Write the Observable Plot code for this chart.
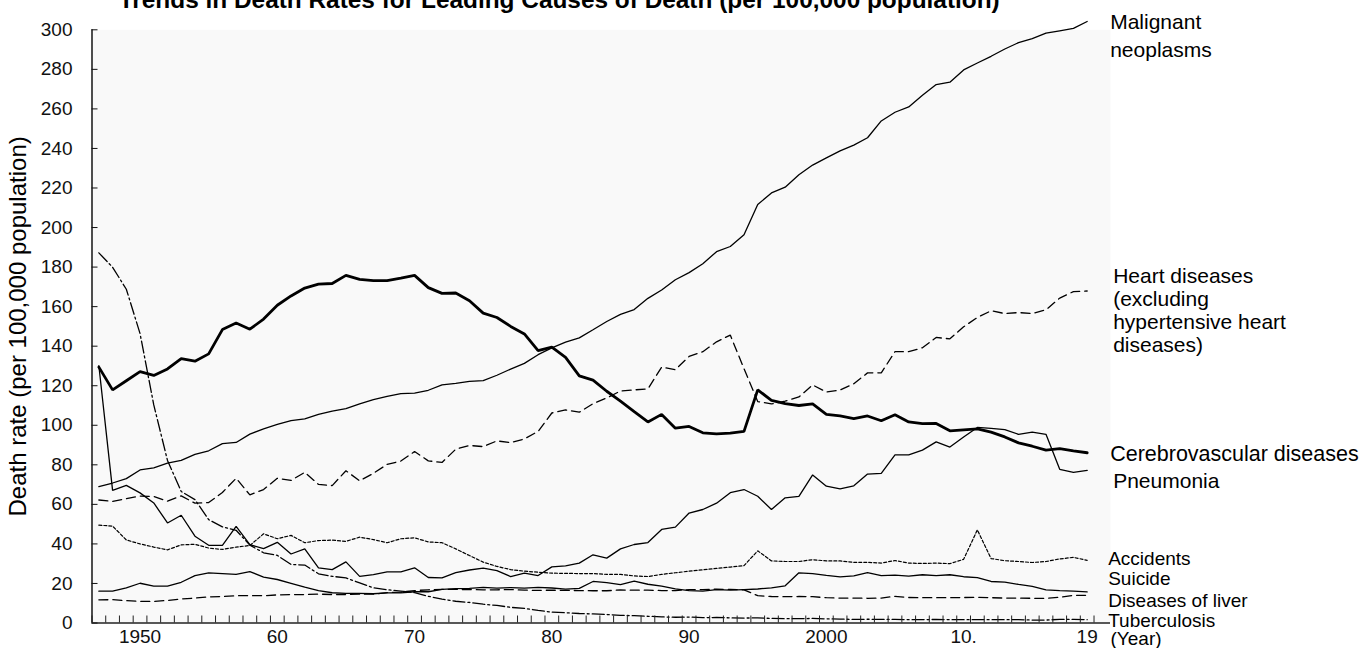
<!DOCTYPE html>
<html><head><meta charset="utf-8">
<script src="https://cdn.jsdelivr.net/npm/d3@7"></script>
<script src="https://cdn.jsdelivr.net/npm/@observablehq/plot@0.6"></script>
<style>
html,body{margin:0;padding:0;background:#fff;overflow:hidden;}
#chart svg{display:block;}
</style>
</head><body><div id="chart"></div>
<script>
// ---------------- DATA (per 100,000 population), years 1947 .. 2019 ----------------
const years = d3.range(1947, 2020);

const malignant = [69.0,70.8,73.0,77.4,78.5,80.8,82.2,85.3,87.1,90.7,
  91.3,95.5,98.2,100.4,102.3,103.2,105.5,107.2,108.4,110.8,
  113.0,114.6,116.0,116.3,117.7,120.4,121.2,122.2,122.6,125.3,
  128.4,131.3,135.7,139.1,142.0,144.2,148.3,152.5,156.1,158.5,
  164.2,168.4,173.6,177.2,181.7,187.8,190.4,196.4,211.6,217.5,
  220.4,226.7,231.6,235.2,238.8,241.7,245.4,253.9,258.3,261.0,
  266.9,272.3,273.5,279.7,283.2,286.6,290.3,293.5,295.5,298.3,
  299.5,300.7,304.2];

const heart = [62.2,61.5,62.9,64.2,64.0,61.6,64.3,60.6,60.9,66.0,
  73.2,64.8,67.5,73.2,72.1,76.2,70.1,69.5,77.0,71.9,
  75.7,80.2,81.9,86.7,82.0,81.2,87.9,89.8,89.2,92.1,
  91.2,93.1,96.9,106.2,107.8,106.6,110.9,113.8,117.3,117.9,
  118.4,129.4,128.1,134.8,137.2,142.2,145.6,128.6,112.0,110.8,
  112.2,114.3,120.4,116.8,117.8,121.0,126.5,126.5,137.2,137.2,
  139.2,144.4,143.7,149.8,154.5,157.9,156.5,157.0,156.5,158.4,
  164.3,167.6,167.9];

const cerebro = [129.4,117.9,122.5,127.1,125.2,128.5,133.7,132.4,136.1,148.4,
  151.7,148.6,153.7,160.7,165.4,169.4,171.4,171.7,175.8,173.8,
  173.1,173.1,174.4,175.8,169.6,166.7,166.9,163.0,156.7,154.5,
  150.0,146.2,137.7,139.5,134.3,125.0,122.8,117.2,112.2,106.9,
  101.7,105.5,98.5,99.4,96.2,95.6,96.0,96.9,117.9,112.6,
  111.0,110.0,110.8,105.5,104.7,103.4,104.7,102.3,105.3,101.7,
  100.8,100.9,97.2,97.7,98.2,96.5,94.1,91.1,89.4,87.4,
  88.2,87.1,86.1];

const pneumonia = [130.1,67.1,69.6,65.8,60.7,50.6,54.5,43.9,39.3,39.3,
  48.9,39.6,37.6,40.8,34.9,37.5,27.9,27.0,30.9,23.6,
  24.5,25.9,25.9,27.9,23.0,22.8,25.5,26.8,27.7,26.5,
  23.5,25.2,24.0,28.4,28.9,30.3,34.5,32.8,37.5,39.7,
  40.7,47.3,48.5,55.6,57.4,60.6,65.9,67.5,64.1,57.4,
  63.3,64.0,74.9,69.2,67.8,69.4,75.3,75.7,85.0,85.0,
  87.4,91.6,89.0,94.1,98.9,98.4,97.8,95.4,96.5,95.4,
  77.7,76.2,77.2];

const accidents = [49.5,49.0,42.0,40.0,38.4,37.0,39.5,39.8,37.9,37.2,
  38.4,39.2,45.1,42.6,44.3,40.6,41.7,41.9,41.3,43.4,
  42.2,40.6,42.6,43.1,41.0,40.6,37.5,34.1,30.8,28.6,
  27.0,26.2,25.7,25.2,25.1,25.0,25.0,24.6,24.6,23.8,
  23.5,24.6,25.4,26.2,26.9,27.6,28.3,29.0,36.5,31.4,
  31.1,31.1,32.0,31.4,31.4,30.7,30.7,30.3,31.6,30.3,
  30.1,30.3,30.0,32.2,47.1,32.6,31.5,31.1,30.6,31.1,
  32.4,33.2,31.7];

const suicide = [16.1,16.1,17.8,20.1,18.6,18.6,20.6,24.0,25.4,25.0,
  24.6,26.0,23.2,22.0,20.1,18.1,16.4,15.3,15.0,15.0,
  14.8,15.2,15.2,15.8,15.8,17.0,17.4,17.5,18.0,17.6,
  17.9,17.6,18.0,17.7,17.1,17.5,21.0,20.4,19.4,21.2,
  19.6,18.7,17.3,16.4,16.1,16.9,16.6,16.9,17.2,17.8,
  18.8,25.4,25.0,24.1,23.3,23.8,25.5,24.0,24.2,23.7,
  24.4,24.0,24.4,23.4,22.9,21.0,20.7,19.5,18.5,16.8,
  16.4,16.1,15.7];

const liver = [11.7,11.8,11.3,10.9,10.9,11.4,12.2,12.6,13.2,13.4,
  13.8,13.8,13.8,14.2,14.4,14.4,14.6,14.4,14.4,14.6,
  14.6,15.4,15.6,16.4,16.8,17.0,17.0,16.9,16.8,16.8,
  16.9,16.6,16.5,16.6,16.5,16.4,16.3,16.3,16.7,16.6,
  16.6,16.4,16.4,16.9,16.9,17.1,17.0,16.8,13.8,13.4,
  13.3,13.4,13.3,12.8,12.6,12.6,12.5,12.6,13.5,12.9,
  12.8,12.8,12.8,12.9,13.0,12.8,12.6,12.6,12.5,12.5,
  13.0,14.0,14.0];

const tuberculosis = [187.2,179.9,168.8,146.4,110.3,82.2,66.5,62.4,52.3,48.6,
  46.9,39.4,35.5,34.2,29.6,29.3,24.9,23.6,22.8,20.3,
  17.8,16.8,16.1,15.4,13.5,12.1,11.0,10.4,9.5,8.9,
  7.9,7.4,6.4,5.5,5.2,4.8,4.6,4.3,3.9,3.7,
  3.4,3.1,2.9,3.0,2.7,2.8,2.6,2.5,2.6,2.3,
  2.2,2.2,2.3,2.1,2.0,1.8,1.9,1.8,1.8,1.7,
  1.7,1.8,1.7,1.7,1.7,1.7,1.7,1.7,1.5,1.5,
  1.8,1.8,1.7];

const seriesLabels = ["Malignant\nneoplasms",
  "Heart diseases\n(excluding\nhypertensive heart\ndiseases)",
  "Cerebrovascular diseases", "Pneumonia", "Accidents", "Suicide",
  "Diseases of liver", "Tuberculosis"];

const yTickValues = d3.range(0, 301, 20);
const xLabelYears = [1950, 1960, 1970, 1980, 1990, 2000, 2010, 2019];
const xLabelTexts = ["1950", "60", "70", "80", "90", "2000", "10.", "19"];
const titleText = "Trends in Death Rates for Leading Causes of Death (per 100,000 population)";
const yAxisTitle = "Death rate (per 100,000 population)";
const xAxisTitle = "(Year)";

// ---------------- STYLES ----------------
const FONT = "'Liberation Sans', Arial, Helvetica, sans-serif";
const INK = "#000";
const styles = [
  {values: malignant,    dash: null,          width: 1.3, dx: 23, dy: 13,    size: 21,   lh: 1.33},
  {values: heart,        dash: "9,5",         width: 1.3, dx: 26, dy: 19,    size: 21,   lh: 1.1},
  {values: cerebro,      dash: null,          width: 2.8, dx: 23, dy: 1,     size: 21.5, lh: 1.1},
  {values: pneumonia,    dash: null,          width: 1.3, dx: 26, dy: 10,    size: 21,   lh: 1.1},
  {values: accidents,    dash: "3,2",         width: 1.2, dx: 21, dy: -2,    size: 19,   lh: 1.1},
  {values: suicide,      dash: null,          width: 1.3, dx: 21, dy: -13.5, size: 19,   lh: 1.1},
  {values: liver,        dash: "9,5",         width: 1.3, dx: 21, dy: 4.5,   size: 19,   lh: 1.1},
  {values: tuberculosis, dash: "12,3,2,3",    width: 1.3, dx: 21, dy: 0.5,   size: 19,   lh: 1.1}
];

const xDomain = [1946.5, 2020.7];
const xTickBounds = d3.range(1946.5, 2020, 1);

const marks = [
  Plot.frame({fill: "#f9f9f9", stroke: null}),
];

styles.forEach((s, k) => {
  const rows = years.map((yr, i) => ({year: yr, value: s.values[i]}));
  marks.push(Plot.line(rows, {x: "year", y: "value", stroke: INK, strokeWidth: s.width,
    strokeDasharray: s.dash, strokeLinejoin: "miter", curve: "linear"}));
  const last = rows[rows.length - 1];
  marks.push(Plot.text([last], {x: "year", y: "value", text: () => seriesLabels[k],
    textAnchor: "start", lineAnchor: "middle", dx: s.dx, dy: s.dy, fontSize: s.size,
    lineHeight: s.lh, fill: INK}));
});

marks.push(
  Plot.ruleY([0], {stroke: "#222", strokeWidth: 1.6}),
  Plot.ruleX([xDomain[0]], {stroke: "#222", strokeWidth: 1.6}),
  Plot.axisY(yTickValues, {tickSize: -6, tickPadding: 25.5, fontSize: 19, color: "#111", label: null}),
  Plot.axisX(xTickBounds, {tickSize: -7, tickFormat: () => "", color: "#222", label: null}),
  Plot.axisX(xLabelYears, {tickSize: 0, tickPadding: 6, fontSize: 19, color: "#111", label: null,
    tickFormat: d => xLabelTexts[xLabelYears.indexOf(d)]}),
  Plot.text([xAxisTitle], {frameAnchor: "bottom-right", textAnchor: "start", lineAnchor: "middle",
    dy: 16, fontSize: 19, fill: INK}),
  Plot.text([yAxisTitle], {frameAnchor: "left", rotate: -90, dx: -73.5, fontSize: 24, fill: INK,
    textAnchor: "middle", lineAnchor: "middle"}),
  Plot.text([titleText], {frameAnchor: "top", dx: -42, dy: -30, fontSize: 24.4, fontWeight: "bold",
    textAnchor: "middle", lineAnchor: "middle", fill: INK})
);

const chart = Plot.plot({
  width: 1360,
  height: 648,
  marginLeft: 91.5,
  marginRight: 250,
  marginTop: 29.3,
  marginBottom: 25.5,
  x: {type: "linear", domain: xDomain},
  y: {type: "linear", domain: [0, 300]},
  style: {fontFamily: FONT, background: "#fff", color: INK, overflow: "visible"},
  marks
});
document.getElementById("chart").appendChild(chart);
</script>
</body></html>
